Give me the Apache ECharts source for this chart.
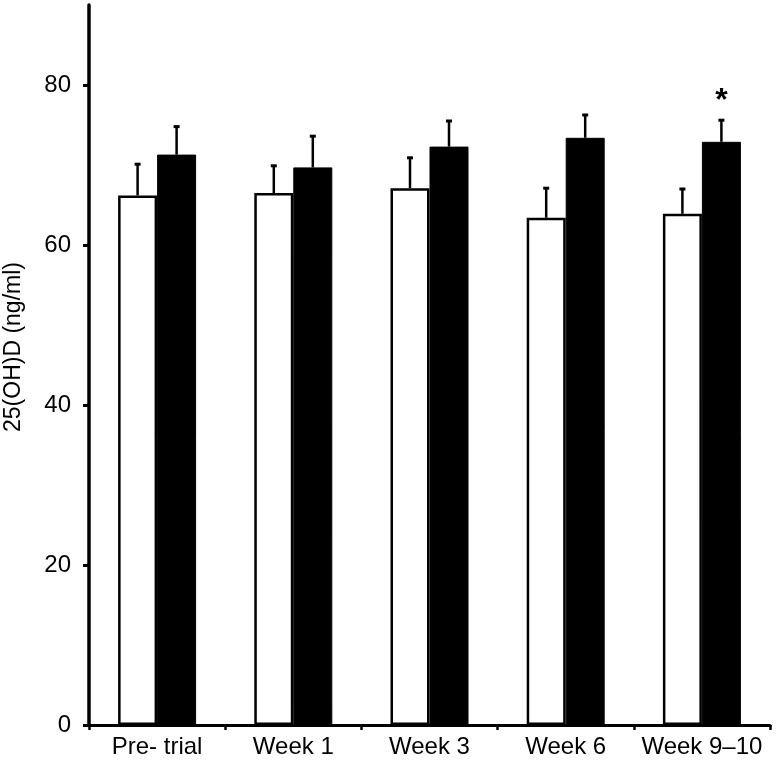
<!DOCTYPE html>
<html>
<head>
<meta charset="utf-8">
<script src="https://cdn.jsdelivr.net/npm/echarts@6/dist/echarts.min.js"></script>
<style>
html,body{margin:0;padding:0;background:#fff;}
#chart{width:780px;height:762px;}
</style>
</head>
<body>
<div id="chart"></div>
<script>
const categories = ['Pre- trial', 'Week 1', 'Week 3', 'Week 6', 'Week 9\u201310'];
const whiteValues = [66.2, 66.5, 67.1, 63.4, 63.9];
const whiteErrors = [3.9, 3.4, 3.8, 3.7, 3.1];
const blackValues = [71.3, 69.7, 72.3, 73.4, 72.9];
const blackErrors = [3.5, 3.9, 3.2, 2.85, 2.7];
const blackMarks = ['', '', '', '', '*'];
const yTicks = [0, 20, 40, 60, 80];

const BAR_W = 39;
const FONT = 'Liberation Sans, Arial, Helvetica, sans-serif';

function errorSeries(values, errors, offsetSign, marks) {
  return {
    type: 'custom',
    z: 5,
    data: values.map((v, i) => [i, v, v + errors[i]]),
    renderItem: function (params, api) {
      const i = api.value(0);
      const base = api.coord([i, api.value(1)]);
      const top = api.coord([i, api.value(2)]);
      const x = base[0] + offsetSign * BAR_W / 2;
      const children = [
        { type: 'line', shape: { x1: x, y1: base[1], x2: x, y2: top[1] },
          style: { stroke: '#000', lineWidth: 2.5 } },
        { type: 'line', shape: { x1: x - 3, y1: top[1], x2: x + 3, y2: top[1] },
          style: { stroke: '#000', lineWidth: 3 } }
      ];
      if (marks && marks[i]) {
        children.push({ type: 'text', x: x, y: top[1] - 3,
          style: { text: marks[i], fill: '#000', font: 'bold 32px ' + FONT,
                   align: 'center', verticalAlign: 'bottom' } });
      }
      return { type: 'group', children: children };
    }
  };
}

const chart = echarts.init(document.getElementById('chart'), null, { renderer: 'canvas' });
chart.setOption({
  animation: false,
  backgroundColor: '#fff',
  grid: { left: 89, right: 10, top: 5, bottom: 37, containLabel: false, outerBoundsMode: 'none' },
  xAxis: {
    type: 'category',
    data: categories,
    axisLine: { lineStyle: { color: '#000', width: 3 } },
    axisTick: { show: true, interval: 0, length: 5, lineStyle: { color: '#000', width: 2.5 } },
    axisLabel: { color: '#000', fontSize: 24, fontFamily: FONT, margin: 10, interval: 0, hideOverlap: false },
    splitLine: { show: false }
  },
  yAxis: {
    type: 'value',
    min: 0, max: 90, interval: 10,
    name: '25(OH)D (ng/ml)',
    nameLocation: 'middle',
    nameGap: 64,
    nameTextStyle: { color: '#000', fontSize: 23, fontFamily: FONT, padding: [0, 0, 0, 36] },
    axisLine: { show: true, lineStyle: { color: '#000', width: 3.5 } },
    axisTick: { show: true, length: 6, customValues: yTicks, lineStyle: { color: '#000', width: 3 } },
    axisLabel: { color: '#000', fontSize: 24, fontFamily: FONT, margin: 18, customValues: yTicks },
    splitLine: { show: false }
  },
  series: [
    { type: 'bar', data: whiteValues, barWidth: BAR_W, barGap: '0%',
      itemStyle: { color: '#fff', borderColor: '#000', borderWidth: 2.5 } },
    { type: 'bar', data: blackValues, barWidth: BAR_W, barGap: '0%',
      itemStyle: { color: '#000', borderColor: '#000', borderWidth: 1 } },
    errorSeries(whiteValues, whiteErrors, -1, null),
    errorSeries(blackValues, blackErrors, 1, blackMarks)
  ]
});
</script>
</body>
</html>
